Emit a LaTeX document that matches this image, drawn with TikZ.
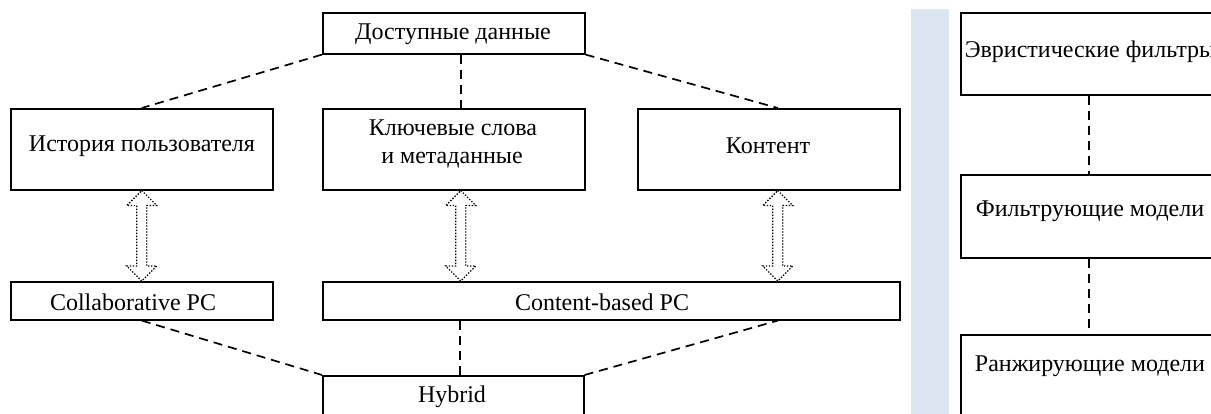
\documentclass[tikz,border=0pt]{standalone}
\usepackage{fontspec}
\setmainfont{Liberation Serif}
\usetikzlibrary{calc}
\definecolor{panelblue}{RGB}{220,230,241}

% hollow double-headed arrow drawn with a dotted outline;
% #1 = upper tip, #2 = point whose height gives the lower tip
\newcommand\dualarrow[2]{%
  \draw[dualline] let \p1=(#1), \p2=(#2) in
    (\x1,\y1) -- ++(15pt,-15pt) -- ++(-10pt,0pt) -- (\x1+5pt,\y2+15pt)
    -- ++(10pt,0pt) -- (\x1,\y2) -- ++(-15pt,15pt) -- ++(10pt,0pt)
    -- (\x1-5pt,\y1-15pt) -- ++(-10pt,0pt) -- cycle;}

\begin{document}
\begin{tikzpicture}[x=1pt,y=-1pt,
  box/.style={draw, line width=1.6pt, inner sep=0pt, anchor=north west},
  lbl/.style={font=\fontsize{24}{28}\selectfont, inner sep=0pt, anchor=base},
  link/.style={line width=1.7pt, dash pattern=on 9pt off 6pt},
  dualline/.style={line width=1.3pt, dash pattern=on 1.3pt off 1.7pt}]
\useasboundingbox (0,0) rectangle (1211,414);
\clip (0,0) rectangle (1211,414);

% side panel
\fill[panelblue] (911,9) rectangle (949,414);

% data sources
\node[box, minimum width=262pt, minimum height=41pt] (src) at (322,12) {};
\node[box, minimum width=262pt, minimum height=81pt] (hist) at (10,108) {};
\node[box, minimum width=262pt, minimum height=81pt] (kw) at (322,108) {};
\node[box, minimum width=262pt, minimum height=81pt] (cont) at (637,108) {};

% recommender approaches
\node[box, minimum width=262pt, minimum height=38pt] (collab) at (10,281) {};
\node[box, minimum width=577pt, minimum height=38pt] (cbased) at (322,281) {};
\node[box, minimum width=261pt, minimum height=60pt] (hyb) at (322,375) {};

% pipeline column
\node[box, minimum width=256pt, minimum height=82pt] (heur) at (960,12) {};
\node[box, minimum width=256pt, minimum height=83pt] (filt) at (960,174) {};
\node[box, minimum width=256pt, minimum height=90pt] (rank) at (960,334) {};

% labels
\node[lbl] (t-src) at (453,40) {Доступные данные};
\node[lbl] (t-hist) at (142,152) {История пользователя};
\node[lbl] (t-kw1) at (453,136) {Ключевые слова};
\node[lbl] (t-kw2) at (452,164) {и метаданные};
\node[lbl] (t-cont) at (768,154) {Контент};
\node[lbl] (t-collab) at (133,310) {Collaborative PC};
\node[lbl] (t-cbased) at (602,310) {Content-based PC};
\node[lbl] (t-hyb) at (452,402) {Hybrid};
\node[lbl] (t-heur) at (1090,58) {Эвристические фильтры};
\node[lbl] (t-filt) at (1090,217) {Фильтрующие модели};
\node[lbl] (t-rank) at (1090,371) {Ранжирующие модели};

% dashed links
\draw[link] (src.south west) -- (hist.north);
\draw[link] ([xshift=7pt]src.south) -- ([xshift=7pt]kw.north);
\draw[link] (src.south east) -- ([xshift=9pt]cont.north);
\draw[link] (collab.south) -- (hyb.north west);
\draw[link] ([xshift=7pt]hyb.north) -- ([xshift=7pt]hyb.north |- cbased.south);
\draw[link] (hyb.north east) -- ([xshift=9pt]cont.south |- cbased.south);
\draw[link] (heur.south) -- (filt.north);
\draw[link] (filt.south) -- (rank.north);

% double arrows
\dualarrow{hist.south}{collab.north}
\dualarrow{[xshift=7pt]kw.south}{cbased.north}
\dualarrow{[xshift=9pt]cont.south}{cbased.north}
\end{tikzpicture}
\end{document}
